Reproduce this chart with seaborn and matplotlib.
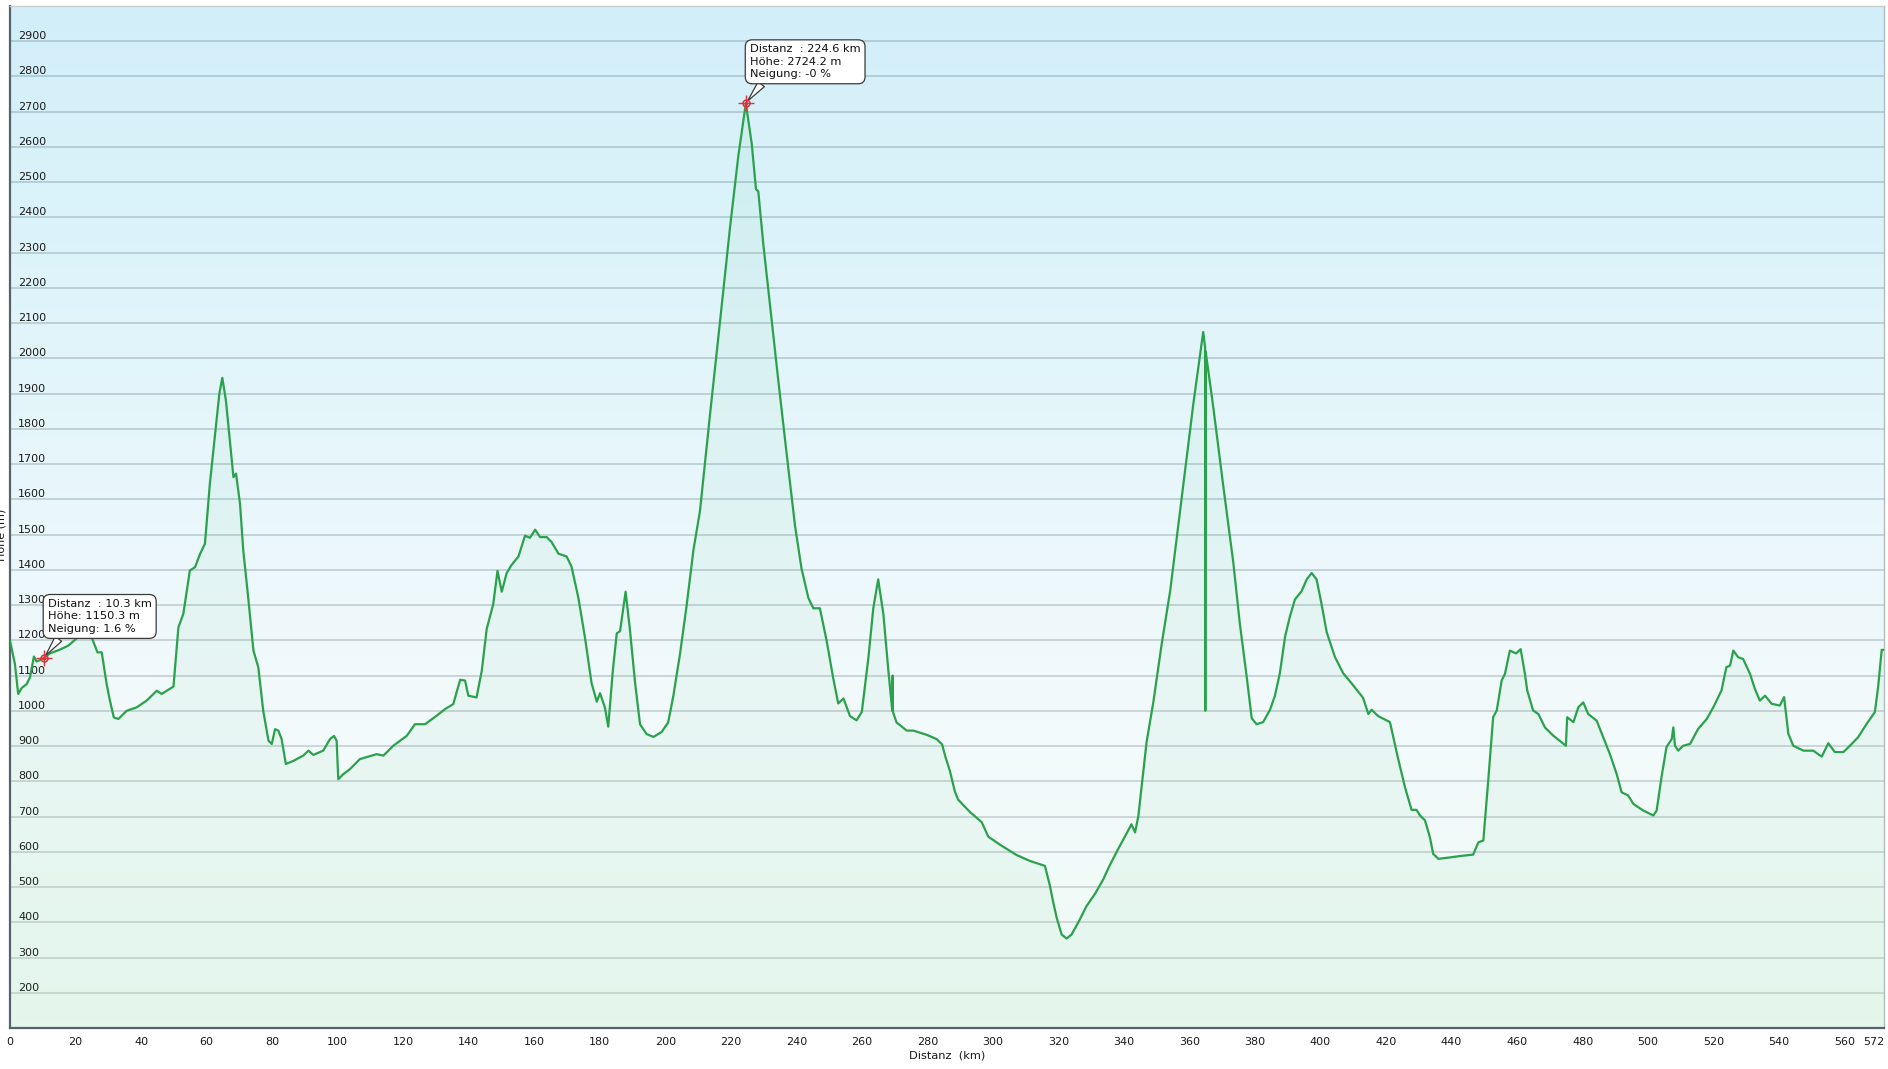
import numpy as np
import matplotlib
matplotlib.use("Agg")
import matplotlib.pyplot as plt
from matplotlib.colors import LinearSegmentedColormap, to_rgb
import seaborn as sns

# Höhenprofil (Distanz in km, Höhe in m)
dist_km = [
    0, 1.5, 2.5, 3.6, 5.1, 6.1, 7.3, 8.1, 9.2, 10.3, 12.2, 15.3, 17.8, 19.8, 21.9,
    23.2, 24.9, 26.7, 28.0, 29.5, 30.5, 31.7, 33.1, 35.6, 38.7, 41.7, 44.8, 46.3,
    49.9, 51.4, 52.9, 54.9, 56.5, 58.0, 59.5, 61.0, 62.6, 63.9, 64.8, 65.9, 67.2,
    68.2, 69.0, 70.2, 71.2, 72.7, 74.3, 75.8, 77.3, 78.9, 79.9, 80.9, 81.9, 82.9,
    84.2, 86.5, 89.5, 91.1, 92.6, 95.6, 97.7, 98.9, 99.7, 100.2, 101.7, 103.8,
    106.8, 111.9, 114.0, 117.0, 121.1, 123.6, 126.7, 130.2, 132.8, 135.3, 137.4,
    138.9, 139.9, 142.4, 144.0, 145.5, 147.5, 148.8, 150.1, 151.6, 153.1, 155.2,
    157.2, 158.7, 160.3, 161.8, 163.8, 165.3, 167.4, 169.9, 171.4, 173.5, 175.5,
    177.5, 179.1, 180.1, 181.6, 182.6, 184.0, 185.2, 186.2, 187.9, 189.2, 190.8,
    192.3, 194.3, 196.4, 198.9, 200.9, 202.5, 204.5, 206.5, 208.6, 210.6, 213.7,
    216.7, 219.8, 222.3, 224.6, 226.4, 227.7, 228.4, 229.9, 232.0, 234.5, 237.1,
    239.6, 241.6, 243.7, 245.2, 247.2, 249.3, 251.3, 252.8, 254.4, 256.4, 258.4,
    260.0, 262.0, 263.5, 265.0, 266.6, 268.1, 269.3, 269.4, 269.5, 270.6, 273.7,
    275.7, 279.8, 282.8, 284.5, 285.5, 286.9, 288.4, 289.4, 293.0, 296.6, 298.6,
    302.2, 307.2, 311.3, 315.9, 317.4, 318.4, 319.5, 321.0, 322.5, 324.0, 326.1,
    328.6, 331.2, 333.7, 335.7, 338.3, 340.3, 342.3, 343.4, 344.4, 346.9, 349.0,
    351.5, 354.1, 358.1, 361.2, 364.2, 364.8, 364.85, 364.95, 367.3, 370.3, 373.4,
    375.4, 377.5, 379.0, 380.5, 382.5, 384.6, 386.1, 387.6, 389.2, 390.7, 392.2,
    394.2, 395.8, 397.3, 398.8, 400.3, 401.9, 404.4, 406.9, 409.5, 413.0, 414.6,
    415.6, 417.6, 421.2, 423.7, 425.8, 427.8, 429.3, 430.4, 431.9, 433.4, 434.4,
    436.0, 439.5, 442.6, 446.6, 448.2, 449.7, 451.2, 452.7, 453.8, 455.3, 456.3,
    457.8, 459.7, 461.1, 462.4, 463.1, 464.9, 466.5, 468.5, 471.0, 474.9, 475.3,
    477.2, 478.7, 480.2, 481.7, 484.3, 486.3, 488.3, 490.4, 491.9, 493.9, 495.5,
    498.5, 501.6, 502.6, 504.1, 505.6, 507.2, 507.7, 508.2, 509.2, 510.7, 512.8,
    515.3, 517.9, 519.9, 522.4, 523.9, 525.0, 526.0, 527.5, 529.0, 531.1, 532.6,
    534.1, 535.7, 537.7, 540.2, 541.5, 542.8, 544.3, 547.4, 550.4, 553.0, 555.0,
    557.0, 559.6, 561.6, 564.1, 566.7, 569.2, 570.2, 571.3, 572.0,
]
hoehe_m = [
    1199, 1133, 1048, 1065, 1076, 1095, 1154, 1140, 1144, 1150, 1163, 1174, 1185,
    1201, 1218, 1232, 1209, 1166, 1166, 1076, 1029, 981, 977, 1000, 1010, 1029,
    1057, 1048, 1069, 1237, 1275, 1398, 1408, 1445, 1474, 1644, 1786, 1900, 1945,
    1881, 1758, 1663, 1673, 1588, 1455, 1322, 1171, 1123, 1000, 915, 906, 948, 944,
    920, 849, 858, 873, 887, 875, 887, 920, 929, 915, 806, 820, 835, 863, 877, 873,
    901, 929, 962, 962, 986, 1005, 1019, 1088, 1086, 1043, 1038, 1114, 1232, 1303,
    1397, 1338, 1391, 1414, 1438, 1497, 1491, 1514, 1493, 1493, 1479, 1446, 1438,
    1409, 1320, 1208, 1079, 1026, 1050, 1009, 955, 1114, 1220, 1226, 1338, 1232,
    1079, 962, 934, 926, 940, 967, 1044, 1161, 1297, 1456, 1567, 1844, 2103, 2374,
    2574, 2724, 2609, 2480, 2474, 2327, 2150, 1938, 1726, 1526, 1403, 1320, 1291,
    1291, 1197, 1091, 1021, 1035, 985, 973, 997, 1150, 1291, 1373, 1273, 1114,
    1000, 1100, 997, 967, 944, 944, 932, 920, 905, 870, 829, 771, 748, 713, 684,
    643, 620, 591, 574, 560, 504, 458, 412, 365, 354, 365, 400, 446, 481, 522, 562,
    609, 643, 678, 655, 701, 910, 1026, 1188, 1339, 1640, 1872, 2075, 2030, 1000,
    2020, 1860, 1640, 1420, 1246, 1095, 979, 962, 968, 1003, 1043, 1107, 1211,
    1269, 1316, 1339, 1373, 1391, 1373, 1304, 1223, 1153, 1107, 1078, 1037, 991,
    1003, 985, 968, 864, 783, 719, 719, 703, 689, 641, 594, 580, 584, 588, 592,
    627, 632, 802, 982, 1001, 1086, 1105, 1171, 1163, 1175, 1105, 1058, 1001, 991,
    953, 930, 901, 982, 968, 1010, 1024, 991, 972, 925, 878, 821, 769, 760, 736,
    717, 703, 717, 812, 897, 920, 953, 901, 887, 901, 906, 949, 977, 1010, 1058,
    1124, 1128, 1171, 1152, 1147, 1105, 1062, 1029, 1043, 1020, 1015, 1039, 935,
    901, 887, 887, 870, 908, 883, 883, 901, 925, 963, 996, 1067, 1173, 1173,
]

# Markierte Punkte mit Infobox
mark_dist = [224.6, 10.3]
mark_hoehe = [2724.2, 1150.3]
mark_neigung = ["-0", "1.6"]

y_ticks = list(range(200, 3000, 100))
x_ticks = list(range(0, 561, 20)) + [572]

sns.set_style("white")
plt.rcParams["font.family"] = ["DejaVu Sans"]

fig = plt.figure(figsize=(18.88, 10.69), dpi=100)
ax = fig.add_axes([10 / 1888, 41 / 1069, 1874 / 1888, 1022 / 1069])

# Hintergrund-Verlauf (oben hellblau, unten hellgrün)
bg_cmap = LinearSegmentedColormap.from_list(
    "bg", [(0.0, "#eefbf4"), (0.3, "#f3fafc"), (0.6, "#e5f6fb"), (1.0, "#d2eff9")])
grad = np.linspace(0, 1, 256).reshape(-1, 1)
ax.imshow(grad, extent=[0, 572, 100, 3000], origin="lower", aspect="auto",
          cmap=bg_cmap, zorder=0, interpolation="bicubic")

# Gitterlinien, oben bläulich, unten grau
c_top = np.array(to_rgb("#a9c6d1"))
c_bot = np.array(to_rgb("#cdd3d2"))
for yt in y_ticks:
    f = (yt - 200) / 2700
    ax.axhline(yt, color=c_bot + (c_top - c_bot) * f, lw=1.2, zorder=1)

ax.fill_between(dist_km, hoehe_m, 100, color="#35b863", alpha=0.05,
                lw=0, zorder=2)
sns.lineplot(x=dist_km, y=hoehe_m, ax=ax, color="#2aa24c", linewidth=1.6,
             estimator=None, sort=False, zorder=3)

ax.set_xlim(0, 572)
ax.set_ylim(100, 3000)
ax.set_xticks(x_ticks)
ax.set_yticks(y_ticks)
ax.set_xticklabels([str(v) for v in x_ticks])
ax.tick_params(axis="x", direction="out", length=3.8, width=1.0, color="#333333",
               pad=2.5, labelsize=8, labelcolor="#1a1a1a")
ax.tick_params(axis="y", length=0, pad=-5.8, labelsize=8, labelcolor="#1a1a1a")
for lab in ax.get_yticklabels():
    lab.set_horizontalalignment("left")
    lab.set_verticalalignment("bottom")
ax.get_xticklabels()[-1].set_horizontalalignment("right")

ax.set_xlabel("Distanz  (km)", fontsize=8.2, color="#1a1a1a", labelpad=3)
ax.set_ylabel("")
fig.text(6.5 / 1888, 0.5, "Höhe (m)", rotation=90, ha="right", va="center",
         fontsize=8, color="#1a1a1a")

for side, col, lw in [("left", "#55636a", 1.6), ("bottom", "#55636a", 1.6),
                      ("top", "#c9cccc", 1.0), ("right", "#b5bcbe", 1.0)]:
    ax.spines[side].set_visible(True)
    ax.spines[side].set_color(col)
    ax.spines[side].set_linewidth(lw)

# Infoboxen mit Marker
for d, h, n in zip(mark_dist, mark_hoehe, mark_neigung):
    txt = f"Distanz  : {d:.1f} km\nHöhe: {h:.1f} m\nNeigung: {n} %"
    ax.annotate(txt, xy=(d, h), xytext=(4, 24), textcoords="offset pixels",
                ha="left", va="bottom", fontsize=8.2, linespacing=1.3,
                color="#111111", zorder=6,
                bbox=dict(boxstyle="round,pad=0.4,rounding_size=0.6",
                          fc="white", ec="#3a3a3a", lw=0.9),
                arrowprops=dict(arrowstyle="wedge,tail_width=0.7", fc="white",
                                ec="#3a3a3a", lw=0.9, shrinkA=0, shrinkB=2,
                                relpos=(0.14, 0.0)))
    ax.plot([d], [h], marker="o", ms=5, mfc="none", mec="#e0303a", mew=1.1,
            zorder=7)
    ax.plot([d], [h], marker="+", ms=11, mec="#e0303a", mew=1.0, zorder=7)
    ax.plot([d], [h], marker="o", ms=1.5, mfc="#e0303a", mec="#e0303a", zorder=7)

fig.savefig("out.png", dpi=100, facecolor="white")
